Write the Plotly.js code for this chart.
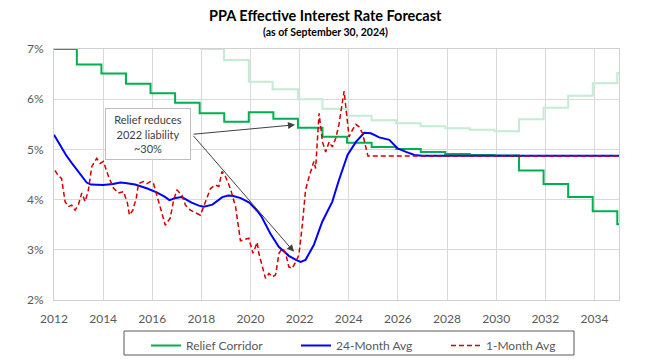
<!DOCTYPE html>
<html>
<head>
<meta charset="utf-8">
<script src="https://cdn.plot.ly/plotly-3.0.1.min.js"></script>
<style>html,body{margin:0;padding:0;background:#fff;}#chart{width:649px;height:363px;}</style>
</head>
<body>
<div id="chart"></div>
<script>
// Relief Corridor lower bound (step changes)
const corridorYears = [2012.00, 2012.93, 2013.93, 2014.93, 2015.93, 2016.93, 2017.93, 2018.93, 2019.93, 2020.93, 2021.93, 2022.93, 2023.93, 2024.93, 2025.93, 2026.93, 2027.93, 2028.93, 2029.93, 2030.93, 2031.93, 2032.93, 2033.93, 2034.93, 2035.00];
const corridorLow   = [7.00, 6.69, 6.51, 6.31, 6.12, 5.93, 5.72, 5.55, 5.74, 5.61, 5.43, 5.25, 5.13, 5.05, 5.01, 4.95, 4.91, 4.89, 4.88, 4.58, 4.31, 4.05, 3.77, 3.51, 3.51];
// Relief Corridor upper bound (light green)
const corridorHighYears = [2017.96, 2018.92, 2019.93, 2020.90, 2021.93, 2022.93, 2023.93, 2024.93, 2025.93, 2026.93, 2027.93, 2028.93, 2029.93, 2030.93, 2031.93, 2032.93, 2033.93, 2034.93, 2035.00];
const corridorHigh      = [7.00, 6.78, 6.35, 6.20, 6.00, 5.81, 5.67, 5.58, 5.52, 5.46, 5.42, 5.39, 5.36, 5.60, 5.83, 6.07, 6.32, 6.52, 6.52];
// 24-Month Average
const avg24Years = [2012.00, 2012.25, 2012.50, 2012.75, 2013.00, 2013.20, 2013.33, 2013.50, 2013.70, 2014.00, 2014.40, 2014.70, 2014.90, 2015.30, 2015.80, 2016.20, 2016.50, 2016.70, 2016.95, 2017.20, 2017.60, 2017.90, 2018.10, 2018.45, 2018.85, 2019.10, 2019.30, 2019.60, 2019.95, 2020.30, 2020.45, 2020.80, 2021.15, 2021.56, 2021.85, 2022.04, 2022.24, 2022.58, 2022.92, 2023.33, 2023.60, 2023.95, 2024.29, 2024.63, 2024.90, 2025.24, 2025.65, 2025.99, 2026.33, 2026.67, 2027.00, 2035.00];
const avg24 = [5.29, 5.07, 4.88, 4.71, 4.55, 4.42, 4.34, 4.30, 4.29, 4.29, 4.31, 4.34, 4.33, 4.30, 4.22, 4.14, 4.06, 3.99, 4.03, 4.05, 3.94, 3.88, 3.86, 3.90, 4.05, 4.08, 4.07, 4.03, 3.94, 3.76, 3.66, 3.33, 3.06, 2.88, 2.80, 2.76, 2.80, 3.10, 3.56, 3.96, 4.39, 4.89, 5.15, 5.33, 5.32, 5.24, 5.19, 5.02, 4.95, 4.89, 4.875, 4.875];
// 1-Month Average
const avg1Years = [2012.04, 2012.18, 2012.31, 2012.45, 2012.58, 2012.72, 2012.86, 2012.99, 2013.13, 2013.27, 2013.40, 2013.54, 2013.74, 2013.88, 2014.01, 2014.22, 2014.42, 2014.62, 2014.83, 2014.99, 2015.07, 2015.21, 2015.35, 2015.44, 2015.64, 2015.78, 2015.92, 2016.05, 2016.26, 2016.53, 2016.73, 2016.87, 2017.01, 2017.21, 2017.35, 2017.55, 2017.96, 2018.16, 2018.37, 2018.57, 2018.71, 2018.84, 2018.98, 2019.18, 2019.39, 2019.59, 2019.73, 2019.93, 2020.10, 2020.27, 2020.34, 2020.48, 2020.61, 2020.75, 2020.89, 2021.02, 2021.16, 2021.29, 2021.43, 2021.56, 2021.70, 2021.84, 2021.97, 2022.11, 2022.24, 2022.38, 2022.52, 2022.58, 2022.65, 2022.79, 2022.93, 2023.06, 2023.20, 2023.33, 2023.47, 2023.60, 2023.81, 2023.95, 2024.01, 2024.15, 2024.29, 2024.42, 2024.56, 2024.69, 2024.78, 2035.00];
const avg1 = [4.58, 4.47, 4.42, 3.96, 3.86, 3.89, 3.79, 3.89, 4.13, 3.96, 4.19, 4.66, 4.82, 4.72, 4.76, 4.46, 4.23, 4.13, 4.16, 3.93, 3.69, 3.79, 4.03, 4.32, 4.36, 4.32, 4.36, 4.32, 3.96, 3.49, 3.63, 3.99, 4.19, 4.09, 3.89, 3.79, 3.69, 3.93, 4.22, 4.29, 4.26, 4.56, 4.46, 4.22, 3.86, 3.18, 3.20, 3.23, 2.93, 3.15, 2.93, 2.66, 2.43, 2.53, 2.46, 2.50, 2.93, 3.03, 2.93, 2.66, 2.63, 2.76, 2.90, 3.50, 4.19, 4.45, 4.70, 4.76, 4.62, 5.72, 5.15, 4.95, 5.15, 5.05, 5.22, 5.50, 6.16, 5.60, 5.25, 5.39, 5.50, 5.45, 5.32, 5.05, 4.87, 4.87];
const xTicks = [2012, 2014, 2016, 2018, 2020, 2022, 2024, 2026, 2028, 2030, 2032, 2034];
const yTicks = [2, 3, 4, 5, 6, 7];
const yTickText = ["2%", "3%", "4%", "5%", "6%", "7%"];

const FONT = "Lato, 'Open Sans', sans-serif";
const traces = [
  {x: corridorHighYears, y: corridorHigh, mode: 'lines', line: {color: '#c4ecd4', width: 2, shape: 'hv'}, showlegend: false, hoverinfo: 'skip'},
  {x: corridorYears, y: corridorLow, name: 'Relief Corridor', mode: 'lines', line: {color: '#00b050', width: 2, shape: 'hv'}},
  {x: avg24Years, y: avg24, name: '24-Month Avg', mode: 'lines', line: {color: '#0000ff', width: 2}},
  {x: avg1Years, y: avg1, name: '1-Month Avg', mode: 'lines', line: {color: '#d00000', width: 1.5, dash: '5px,3px'}}
];
const PH = 251, PW = 565; // plot area size in px
const layout = {
  width: 649, height: 363,
  margin: {l: 54, r: 30, t: 49, b: 63, autoexpand: false},
  paper_bgcolor: '#fff', plot_bgcolor: '#fff',
  font: {family: FONT, color: '#595959', size: 12},
  xaxis: {range: [2012, 2035], tickvals: xTicks, ticktext: xTicks.map(String), showgrid: true, gridcolor: '#d9d9d9', gridwidth: 1, showline: true, linecolor: '#d0d0d0', mirror: true, zeroline: false, ticks: '', ticklen: 0, ticklabelstandoff: 8, tickfont: {size: 12, color: '#595959'}, fixedrange: true, automargin: false},
  yaxis: {range: [2, 7], tickvals: yTicks, ticktext: yTickText, showgrid: true, gridcolor: '#d9d9d9', gridwidth: 1, showline: true, linecolor: '#d0d0d0', mirror: true, zeroline: false, ticks: '', ticklen: 0, ticklabelstandoff: 7, tickfont: {size: 12, color: '#595959'}, fixedrange: true, automargin: false},
  showlegend: true,
  legend: {orientation: 'h', x: (146 - 54) / PW, xanchor: 'left', y: -(331 - 300) / PH, yanchor: 'top', borderwidth: 0, bgcolor: 'rgba(0,0,0,0)', font: {size: 12, color: '#595959'}, entrywidth: 105, traceorder: 'normal', itemwidth: 30},
  shapes: [
    {type: 'rect', xref: 'paper', yref: 'paper', x0: (124 - 54) / PW, x1: (574 - 54) / PW, y0: -(331 - 300) / PH, y1: -(355 - 300) / PH, line: {color: '#595959', width: 1}, fillcolor: 'rgba(0,0,0,0)', layer: 'below'}
  ],
  annotations: [
    {xref: 'paper', yref: 'paper', x: (325 - 54) / PW, y: 1 + (49 - 15) / PH, xanchor: 'center', yanchor: 'middle', text: '<b>PPA Effective Interest Rate Forecast</b>', showarrow: false, font: {family: FONT, size: 14.5, color: '#000'}},
    {xref: 'paper', yref: 'paper', x: (325 - 54) / PW, y: 1 + (49 - 32) / PH, xanchor: 'center', yanchor: 'middle', text: '<b>(as of September 30, 2024)</b>', showarrow: false, font: {family: FONT, size: 10.5, color: '#000'}},
    {x: 2021.81, y: 5.49, ax: 2017.62, ay: 5.30, xref: 'x', yref: 'y', axref: 'x', ayref: 'y', text: '', showarrow: true, arrowhead: 2, arrowsize: 1.4, arrowwidth: 1, arrowcolor: '#404040', standoff: 0},
    {x: 2021.77, y: 2.96, ax: 2017.62, ay: 5.30, xref: 'x', yref: 'y', axref: 'x', ayref: 'y', text: '', showarrow: true, arrowhead: 2, arrowsize: 1.4, arrowwidth: 1, arrowcolor: '#404040', standoff: 0},
    {x: 2015.82, y: 5.31, xref: 'x', yref: 'y', text: 'Relief reduces<br>2022 liability<br>~30%', showarrow: false, align: 'center', width: 82, height: 48, bgcolor: '#fff', bordercolor: '#bfbfbf', borderwidth: 1, font: {family: FONT, size: 11, color: '#404040'}}
  ]
};
Plotly.newPlot('chart', traces, layout, {displayModeBar: false, staticPlot: true});
</script>
</body>
</html>
